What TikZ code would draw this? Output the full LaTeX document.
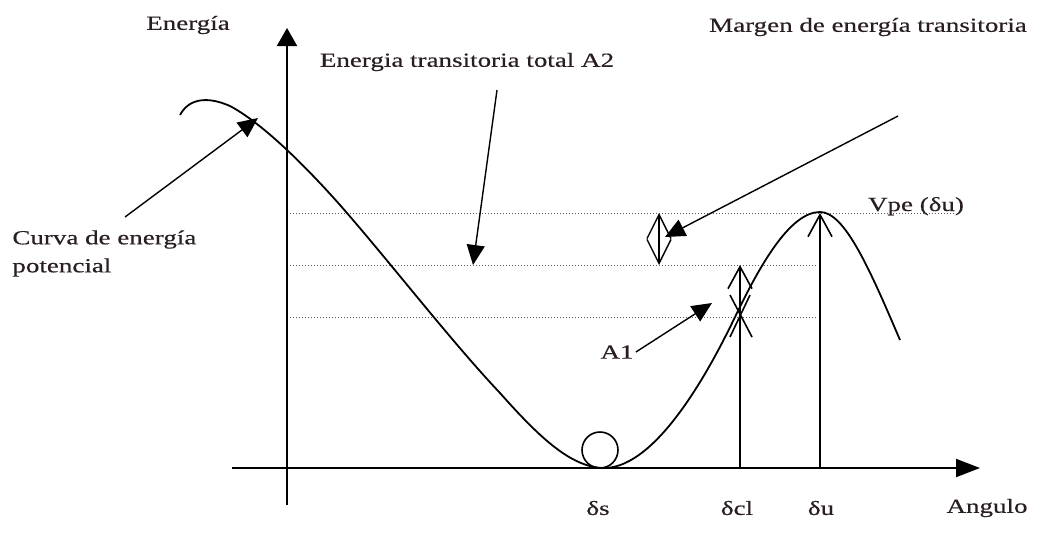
\documentclass[tikz,border=0pt]{standalone}
\usepackage{fontspec}
\setmainfont{Liberation Serif}[FakeStretch=1.35,FakeBold=0.4]
\usetikzlibrary{arrows.meta}
\definecolor{ink}{RGB}{40,30,35}
\begin{document}
\begin{tikzpicture}[x=0.5pt,y=-0.5pt,
  lbl/.style={font=\fontsize{10}{14}\selectfont, text=ink, inner sep=0pt},
  axis/.style={line width=1pt, -{Triangle[length=9pt,width=10pt]}},
  xaxis/.style={line width=1pt, -{Triangle[length=12pt,width=9pt]}},
  curve/.style={line width=0.9pt},
  guide/.style={densely dotted, line width=0.5pt, black!65},
  pointer/.style={line width=0.7pt, -{Triangle[length=10pt,width=9pt]}},
  level/.style={line width=0.8pt, -{Straight Barb[length=11pt,width=12pt]}},
  margin/.style={line width=0.7pt, {Straight Barb[length=12pt,width=12pt]}-{Straight Barb[length=12pt,width=12pt]}},
]
\useasboundingbox (0,0) rectangle (1037,532);

% axes
\coordinate (yb) at (287,505);
\coordinate (yt) at (287,28);
\coordinate (xl) at (232,468);
\coordinate (xr) at (980,468);

% dotted guide lines
\coordinate (g1l) at (287,213); \coordinate (g1r) at (955,213);
\coordinate (g2l) at (287,265); \coordinate (g2r) at (818,265);
\coordinate (g3l) at (287,317); \coordinate (g3r) at (818,317);
\draw[guide] (g1l) -- (g1r);
\draw[guide] (g2l) -- (g2r);
\draw[guide] (g3l) -- (g3r);

\draw[axis] (yb) -- (yt);
\draw[xaxis] (xl) -- (xr);

% potential energy curve
\draw[curve] (180,115) .. controls (188,100) and (205,95) .. (230,106)
  .. controls (260,122) and (300,160) .. (340,205)
  .. controls (390,262) and (450,340) .. (500,393)
  .. controls (540,438) and (570,466) .. (602,468)
  .. controls (650,470) and (700,390) .. (735,317)
  .. controls (760,265) and (790,212) .. (820,212)
  .. controls (845,212) and (870,270) .. (900,340);

% ball
\node[circle, draw, line width=0.8pt, minimum size=18pt, inner sep=0pt] (ball) at (600,450) {};

% vertical level arrows
\coordinate (cl0) at (740,468); \coordinate (cl1) at (740,265);
\coordinate (u0) at (820,468); \coordinate (u1) at (820,213);
\draw[level] (cl0) -- (cl1);
\draw[level] (u0) -- (u1);

% X mark (A1)
\coordinate (xa) at (730,295); \coordinate (xb) at (752,337);
\coordinate (xc) at (750,295); \coordinate (xd) at (730,337);
\draw[line width=0.8pt] (xa) -- (xb) (xc) -- (xd);

% energy margin double arrow
\coordinate (m0) at (659,213); \coordinate (m1) at (659,265);
\draw[margin] (m0) -- (m1);

% labels
\node[lbl] (energia) at (188,25) {Energía};
\node[lbl] (a2) at (467,62) {Energia transitoria total A2};
\node[lbl] (margen) at (868,27) {Margen de energía transitoria};
\node[lbl, anchor=base] (vpe) at (916,211) {Vpe (δu)};
\node[lbl, align=left, anchor=north west] (curva) at (12,230) {Curva de energía\\potencial};
\node[lbl] (a1) at (617,352) {A1};
\node[lbl] (ds) at (598,508) {δs};
\node[lbl] (dcl) at (737,508) {δcl};
\node[lbl] (du) at (821,508) {δu};
\node[lbl] (ang) at (987,508) {Angulo};

% pointers
\coordinate (pa2) at (497,90); \coordinate (ta2) at (473,265);
\draw[pointer] (pa2) -- (ta2);
\coordinate (pcu) at (125,217); \coordinate (tcu) at (258,118);
\draw[pointer] (pcu) -- (tcu);
\coordinate (pmg) at (898,116); \coordinate (tmg) at (665,237);
\draw[pointer] (pmg) -- (tmg);
\coordinate (ta1) at (712,303);
\draw[pointer] ([xshift=1pt]a1.east) -- (ta1);
\end{tikzpicture}
\end{document}
